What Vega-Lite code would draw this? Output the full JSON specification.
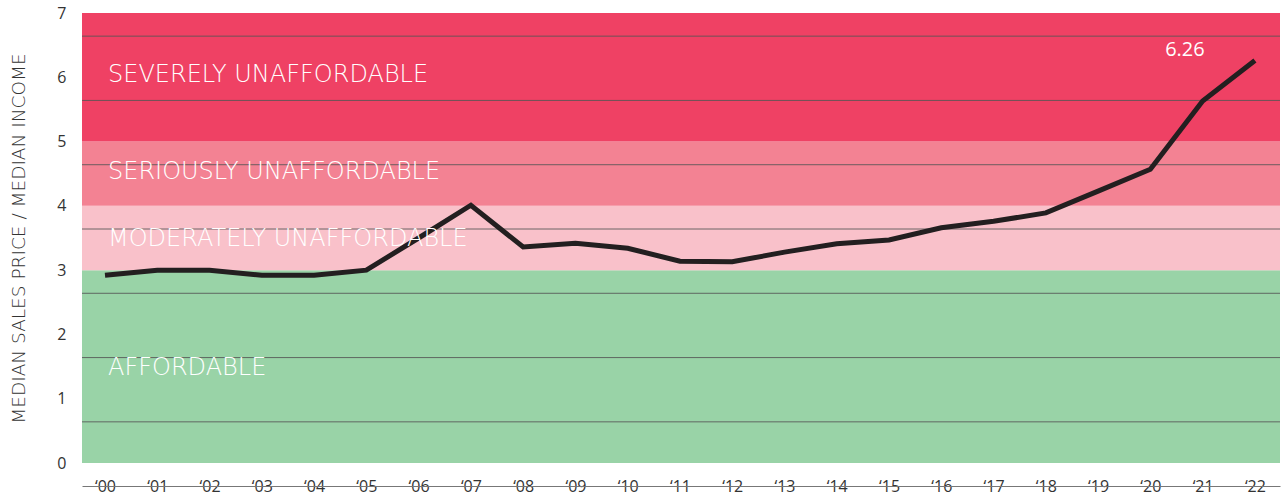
{
  "$schema": "https://vega.github.io/schema/vega-lite/v6.json",
  "width": 1198,
  "height": 450,
  "autosize": {"type": "none"},
  "padding": {"left": 82, "top": 13, "right": 6, "bottom": 34},
  "background": "white",
  "config": {"view": {"stroke": null}, "font": "Open Sans"},
  "datasets": {
    "bands": [
      {"zone": "AFFORDABLE", "lo": 0, "hi": 3, "ly": 1.48},
      {"zone": "MODERATELY UNAFFORDABLE", "lo": 3, "hi": 4, "ly": 3.48},
      {"zone": "SERIOUSLY UNAFFORDABLE", "lo": 4, "hi": 5, "ly": 4.53},
      {"zone": "SEVERELY UNAFFORDABLE", "lo": 5, "hi": 7, "ly": 6.04}
    ],
    "grid": [
      {"g": 0.64}, {"g": 1.64}, {"g": 2.64}, {"g": 3.64}, {"g": 4.64}, {"g": 5.64}, {"g": 6.64}
    ],
    "series": [
      {"year": 2000, "ratio": 2.92},
      {"year": 2001, "ratio": 3.0},
      {"year": 2002, "ratio": 3.0},
      {"year": 2003, "ratio": 2.92},
      {"year": 2004, "ratio": 2.92},
      {"year": 2005, "ratio": 3.0},
      {"year": 2006, "ratio": 3.5},
      {"year": 2007, "ratio": 4.01},
      {"year": 2008, "ratio": 3.36},
      {"year": 2009, "ratio": 3.42},
      {"year": 2010, "ratio": 3.34},
      {"year": 2011, "ratio": 3.14},
      {"year": 2012, "ratio": 3.13},
      {"year": 2013, "ratio": 3.28},
      {"year": 2014, "ratio": 3.41},
      {"year": 2015, "ratio": 3.47},
      {"year": 2016, "ratio": 3.66},
      {"year": 2017, "ratio": 3.76},
      {"year": 2018, "ratio": 3.89},
      {"year": 2019, "ratio": 4.23},
      {"year": 2020, "ratio": 4.57},
      {"year": 2021, "ratio": 5.63},
      {"year": 2022, "ratio": 6.26}
    ]
  },
  "layer": [
    {
      "data": {"name": "bands"},
      "mark": {"type": "rect"},
      "encoding": {
        "y": {"field": "lo", "type": "quantitative",
          "scale": {"domain": [0, 7], "nice": false},
          "axis": {
            "title": "MEDIAN SALES PRICE / MEDIAN INCOME",
            "titleFontSize": 18.5, "titleFontWeight": 200, "titleColor": "#333333", "titleFont": "DejaVu Sans",
            "titlePadding": 28,
            "values": [0,1,2,3,4,5,6,7], "format": "d", "ticks": false, "domain": false, "grid": false,
            "labelPadding": 16, "labelFontSize": 16, "labelColor": "#333333", "labelFont": "Open Sans"
          }},
        "y2": {"field": "hi"},
        "color": {"field": "zone", "type": "nominal", "legend": null,
          "scale": {"domain": ["AFFORDABLE", "MODERATELY UNAFFORDABLE", "SERIOUSLY UNAFFORDABLE", "SEVERELY UNAFFORDABLE"],
                    "range": ["#99D3A7", "#F9C1CA", "#F38293", "#EF4164"]}}
      }
    },
    {
      "data": {"name": "grid"},
      "mark": {"type": "rule", "color": "#555555", "strokeWidth": 1, "opacity": 0.85},
      "encoding": {"y": {"field": "g", "type": "quantitative"}}
    },
    {
      "data": {"name": "series"},
      "mark": {"type": "line", "color": "#231F20", "strokeWidth": 5, "strokeJoin": "miter", "strokeCap": "butt"},
      "encoding": {
        "x": {
          "field": "year", "type": "quantitative",
          "scale": {"domain": [1999.56, 2022.48], "nice": false, "zero": false},
          "axis": {
            "title": null, "values": [2000,2001,2002,2003,2004,2005,2006,2007,2008,2009,2010,2011,2012,2013,2014,2015,2016,2017,2018,2019,2020,2021,2022],
            "format": "d", "labelExpr": "'‘' + slice(datum.label, 2)",
            "offset": 23, "ticks": false, "tickSize": 0, "labelPadding": 0,
            "labelBaseline": "middle", "labelFontSize": 16, "labelColor": "#333333",
            "labelFont": "Open Sans", "domainColor": "#777777", "domainWidth": 1, "grid": false,
            "labelFlush": false
          }
        },
        "y": {"field": "ratio", "type": "quantitative"}
      }
    },
    {
      "data": {"name": "bands"},
      "mark": {"type": "text", "align": "left", "baseline": "middle", "color": "white", "fontSize": 24, "fontWeight": 200, "dx": 26, "font": "DejaVu Sans"},
      "encoding": {
        "x": {"datum": 1999.56, "type": "quantitative"},
        "y": {"field": "ly", "type": "quantitative"},
        "text": {"field": "zone"}
      }
    },
    {
      "data": {"name": "series"},
      "transform": [{"filter": "datum.year == 2022"}],
      "mark": {"type": "text", "align": "center", "baseline": "middle", "color": "white", "fontSize": 20, "fontWeight": 400, "dx": -70, "dy": -11, "font": "Open Sans"},
      "encoding": {
        "x": {"field": "year", "type": "quantitative"},
        "y": {"field": "ratio", "type": "quantitative"},
        "text": {"field": "ratio", "type": "quantitative", "format": ".2f"}
      }
    }
  ]
}
